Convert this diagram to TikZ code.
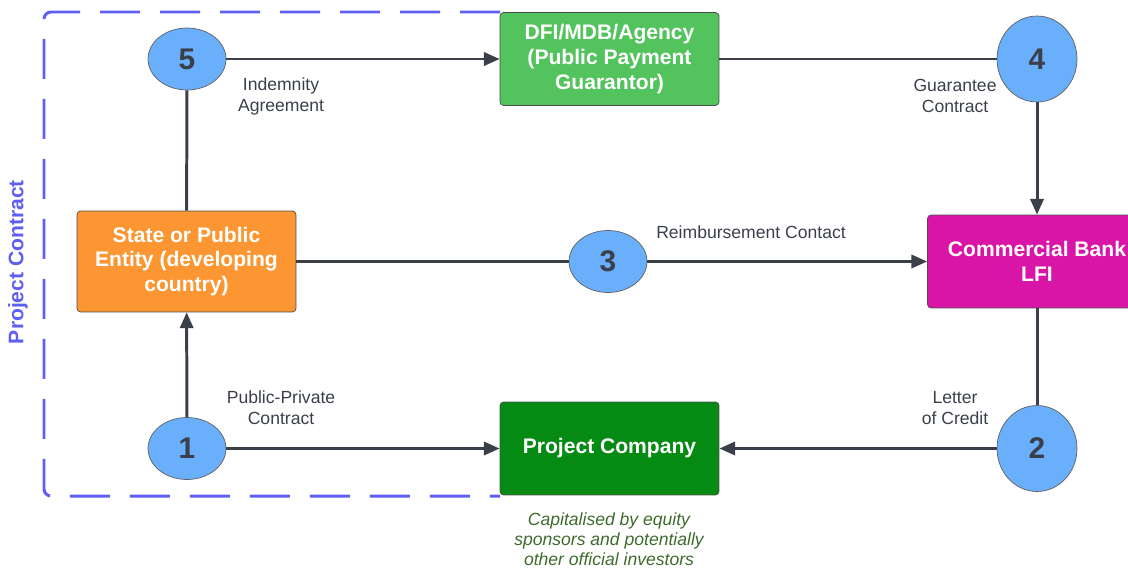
\documentclass[tikz,border=0pt]{standalone}
\usepackage{fontspec}
\setmainfont{Liberation Sans}
\usetikzlibrary{shapes,arrows.meta}

\definecolor{contractblue}{HTML}{5F5FF6}
\definecolor{numblue}{HTML}{6AAFFB}
\definecolor{linkgray}{HTML}{3A3F4A}
\definecolor{dfigreen}{HTML}{52C35D}
\definecolor{stateorange}{HTML}{FB9632}
\definecolor{bankmagenta}{HTML}{D915A8}
\definecolor{pcgreen}{HTML}{058A13}
\definecolor{notegreen}{HTML}{3E6B2C}

\begin{document}
\begin{tikzpicture}[x=0.02cm,y=-0.02cm,
    party/.style={draw=gray!60!black, rounded corners=2pt, minimum width=4.38cm, minimum height=1.86cm,
      text=white, align=center, font=\fontsize{12}{14.2}\selectfont\bfseries},
    numcirc/.style={ellipse, draw=gray!75!black, fill=numblue, inner sep=0pt,
      minimum width=1.56cm, minimum height=1.24cm, text=linkgray, font=\fontsize{17}{17}\selectfont\bfseries},
    link/.style={draw=linkgray, line width=1.7pt},
    flow/.style={link, -{Triangle[length=9pt,width=7.5pt]}},
    note/.style={text=linkgray, align=center, font=\fontsize{10}{12}\selectfont},
    contract/.style={draw=contractblue, line width=1.7pt, rounded corners=4pt, dash pattern=on 0.8cm off 0.4cm}]
  \useasboundingbox (0,0) rectangle (1128,568);

  % project contract frame
  \draw[contract] (500,12) -- (44,12) -- (44,496) -- (500,496);
  \node[rotate=90, text=contractblue, font=\fontsize{12}{14}\selectfont\bfseries] (pclabel) at (18,262) {Project Contract};

  % parties
  \node[party, fill=dfigreen] (dfi) at (609.5,59) {DFI/MDB/Agency\\(Public Payment\\Guarantor)};
  \node[party, fill=stateorange, minimum height=2.02cm] (state) at (186.5,261.5) {State or Public\\Entity (developing\\country)};
  \node[party, fill=bankmagenta] (bank) at (1037,261.5) {Commercial Bank\\LFI};
  \node[party, fill=pcgreen] (pc) at (609.5,448.5) {Project Company};

  % numbered steps
  \node[numcirc] (c5) at (187,59) {5};
  \node[numcirc, minimum width=1.6cm, minimum height=1.72cm] (c4) at (1037,59) {4};
  \node[numcirc] (c3) at (608,261.5) {3};
  \node[numcirc, minimum width=1.6cm, minimum height=1.72cm] (c2) at (1037,448.5) {2};
  \node[numcirc] (c1) at (187,448.5) {1};

  % connectors
  \draw[flow] (c5) -- (dfi);
  \draw[link] (dfi) -- (c4);
  \draw[flow] (c4) -- (bank);
  \draw[link] (c5) -- (state);
  \draw[link] (state) -- (c3);
  \draw[flow] (c3) -- (bank);
  \draw[flow] (c1) -- (state);
  \draw[flow] (c1) -- (pc);
  \draw[link] (bank) -- (c2);
  \draw[flow] (c2) -- (pc);

  % labels
  \node[note] (lindem) at (281,96) {Indemnity\\Agreement};
  \node[note] (lguar) at (955,96) {Guarantee\\Contract};
  \node[note] (lreimb) at (751,232) {Reimbursement Contact};
  \node[note] (lppp) at (281,408) {Public-Private\\Contract};
  \node[note] (lloc) at (955,408) {Letter\\of Credit};
  \node[note, text=notegreen, font=\fontsize{10}{11.4}\selectfont\itshape] (lcap) at (609,539)
    {Capitalised by equity\\sponsors and potentially\\other official investors};
\end{tikzpicture}
\end{document}
